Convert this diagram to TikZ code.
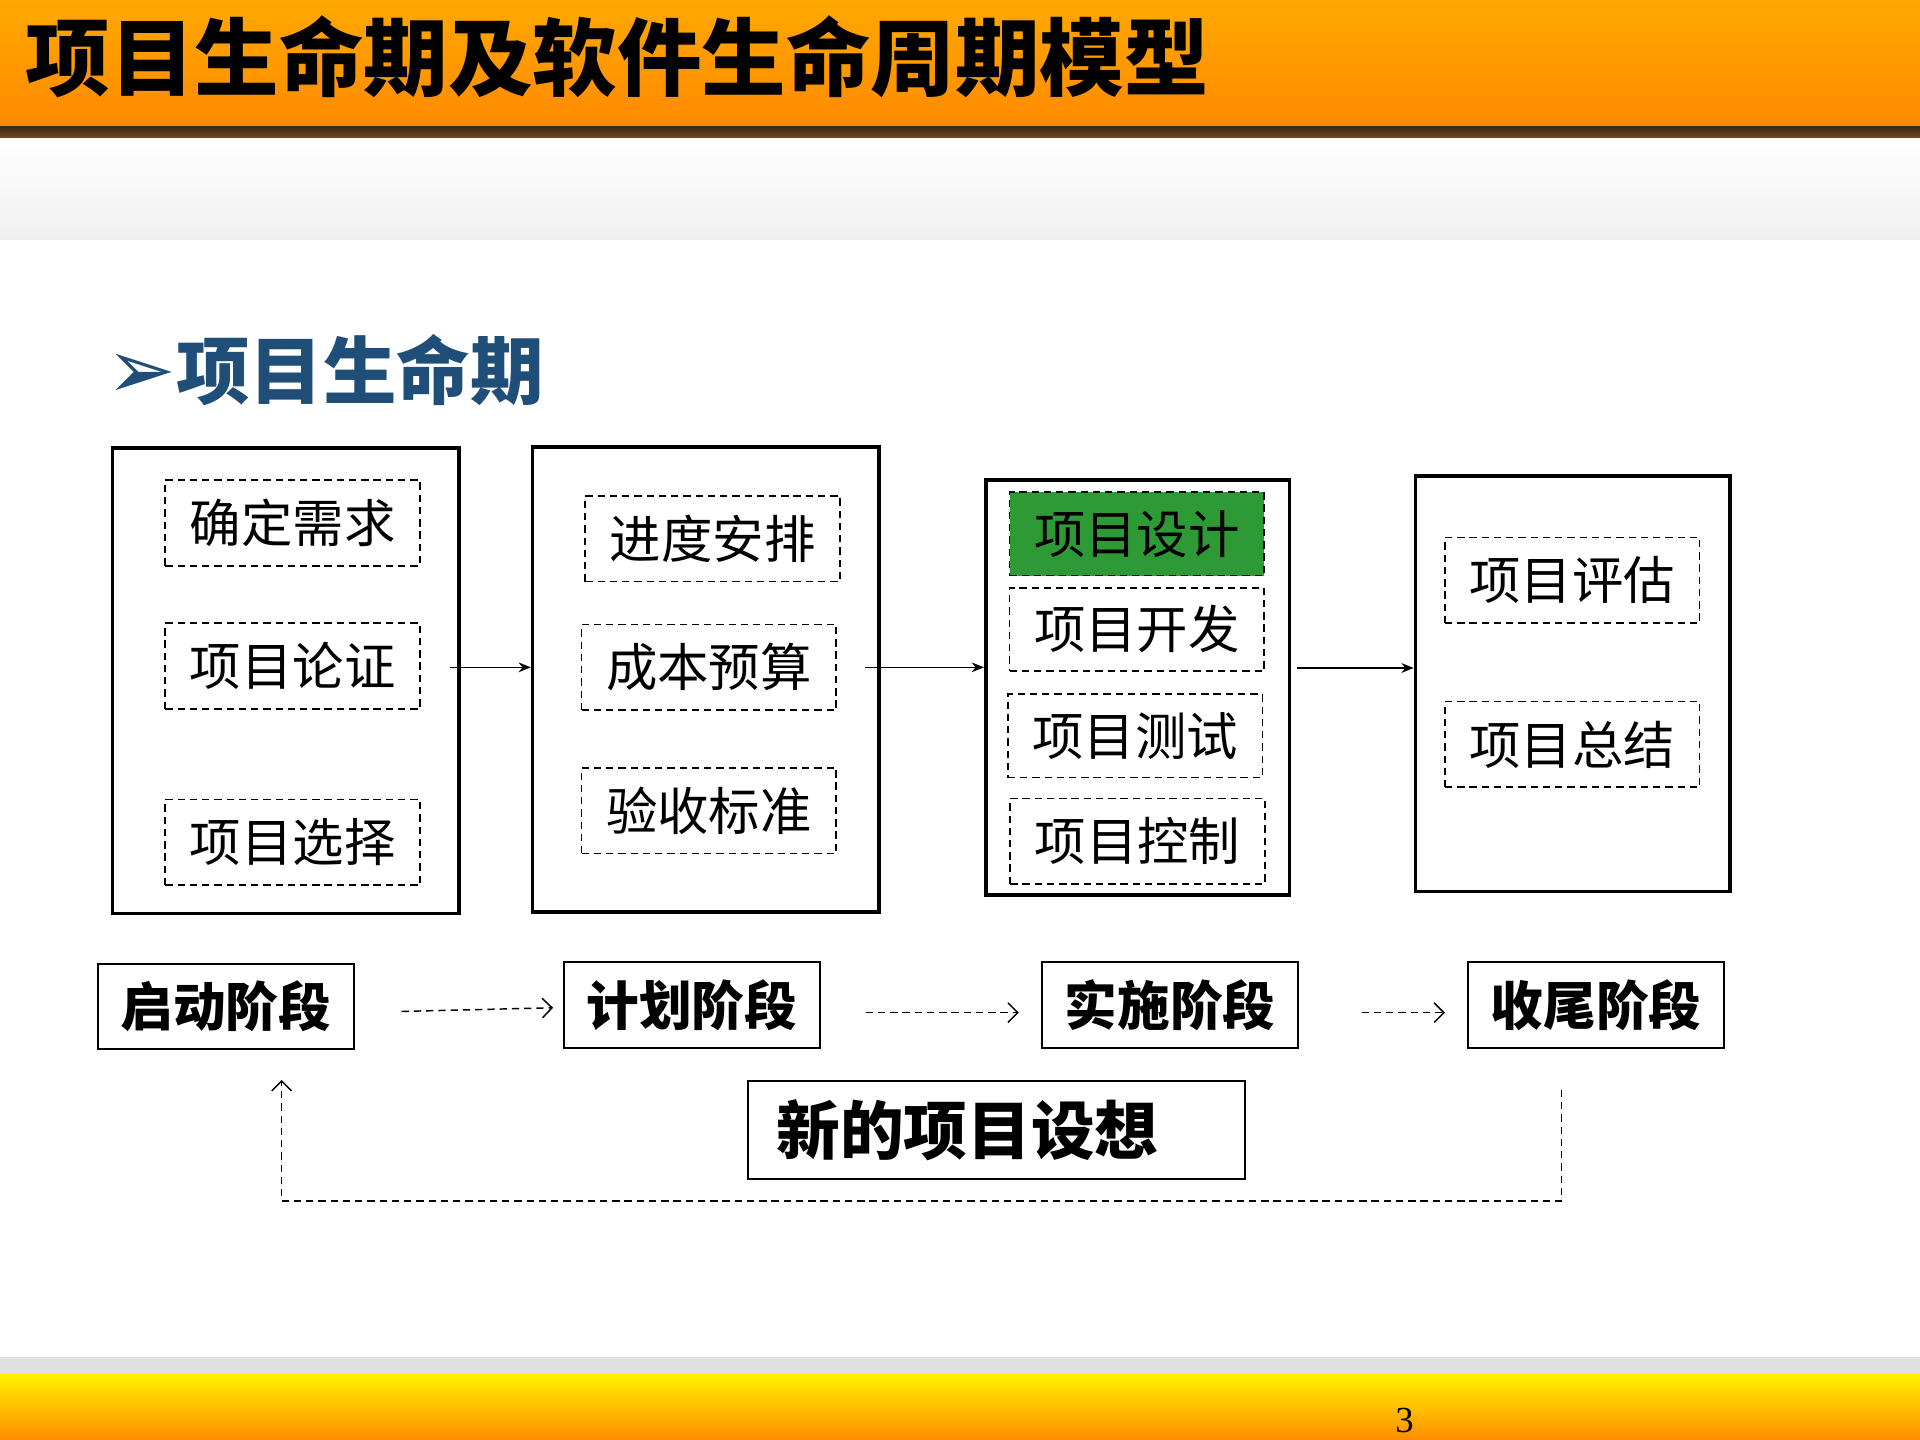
\documentclass[tikz,border=0pt]{standalone}
\usepackage{fontspec}
\setmainfont{Liberation Serif}
\newfontfamily\cjk{Noto Sans CJK SC}
\newfontfamily\djsym{DejaVu Sans}
\usetikzlibrary{arrows.meta}
\definecolor{ttl}{HTML}{1F4E79}
\definecolor{grn}{HTML}{2E9A35}
\definecolor{hdtop}{HTML}{FFA800}
\definecolor{hdbot}{HTML}{FF8A00}
\tikzset{x=0.5pt,y=-0.5pt,
 big/.style={draw,line width=1.5pt},
 item/.style={draw,dash pattern=on 3pt off 2pt,line width=0.7pt,font=\cjk\fontsize{21}{21}\selectfont,anchor=center},
 stage/.style={draw,line width=0.8pt,font=\cjk\bfseries\fontsize{21.5}{22}\selectfont},
 arr/.style={-{Stealth[length=5pt,width=4pt]},line width=0.6pt},
 darr/.style={-{Straight Barb[length=4pt]},dash pattern=on 3pt off 2pt,line width=0.6pt}}
\begin{document}
\begin{tikzpicture}
\useasboundingbox (0,0) rectangle (1568,1176);
\shade[top color=hdtop,bottom color=hdbot] (0,0) rectangle (1568,104);
\shade[top color=black!70!brown,bottom color=brown!60!black] (0,103) rectangle (1568,113);
\shade[top color=white,bottom color=black!6] (0,113) rectangle (1568,196);
\node[anchor=west,font=\cjk\bfseries\fontsize{34.5}{35}\selectfont] (title) at (14,46) {项目生命期及软件生命周期模型};
\node[anchor=west,text=ttl,font=\cjk\bfseries\fontsize{30}{30}\selectfont] (sub) at (80,302) {{\djsym\fontsize{34}{34}\selectfont ➢}项目生命期};
% big boxes
\node[big,minimum width=141.5pt,minimum height=190pt] (b1) at (233.5,556) {};
\node[big,minimum width=141.5pt,minimum height=190pt] (b2) at (576.5,555) {};
\node[big,minimum width=124pt,minimum height=169.5pt] (b3) at (929,561.5) {};
\node[big,minimum width=128.5pt,minimum height=169.5pt] (b4) at (1284.5,558.5) {};
\tikzset{item/.append style={minimum width=104pt,minimum height=35pt}}
\node[item] (a1) at (239,427) {确定需求};
\node[item] (a2) at (239,544) {项目论证};
\node[item] (a3) at (239,688) {项目选择};
\node[item] (c1) at (582,440) {进度安排};
\node[item] (c2) at (579,545) {成本预算};
\node[item] (c3) at (579,662) {验收标准};
\node[item,fill=grn,minimum height=34pt] (d1) at (928.5,436) {项目设计};
\node[item,minimum height=34pt] (d2) at (928.5,514) {项目开发};
\node[item,minimum height=34pt] (d3) at (927,601) {项目测试};
\node[item] (d4) at (929,687) {项目控制};
\node[item] (e1) at (1284,474) {项目评估};
\node[item] (e2) at (1284,608) {项目总结};
\draw[arr] (b1.east)++(-9,-11) coordinate (s1) -- (b2.west|-s1);
\draw[arr] (b2.east)++(-13,-10) coordinate (s2) -- (b3.west|-s2);
\draw[arr] (b3.east)++(5,-16) coordinate (s3) -- (b4.west|-s3);
% stages
\tikzset{stage/.append style={minimum width=104.5pt,minimum height=35pt}}
\node[stage] (p1) at (184.5,822) {启动阶段};
\node[stage] (p2) at (565,821) {计划阶段};
\node[stage] (p3) at (955.5,821) {实施阶段};
\node[stage] (p4) at (1303.5,821) {收尾阶段};
\node[stage,minimum width=203pt,minimum height=40pt,font=\cjk\bfseries\fontsize{26}{26}\selectfont,text width=180pt] (n) at (814,923) {新的项目设想};
\coordinate (q1) at (328,826); \coordinate (q2) at (707,827); \coordinate (q3) at (1112,827);
\draw[darr] (q1) -- ([xshift=-4,yshift=-1]p2.west);
\draw[darr] (q2) -- (832,827) coordinate (r2);
\draw[darr] (q3) -- (1180,827) coordinate (r3);
\coordinate (l1) at (1275,890); \coordinate (l2) at (230,882);
\draw[darr] (l1) -- (1275,981) -- (230,981) -- (l2);
% footer
\fill[black!12] (0,1108) rectangle (1568,1122);
\shade[top color=yellow!90!orange,bottom color=orange!90!yellow] (0,1122) rectangle (1568,1176);
\node[font=\fontsize{15}{15}\selectfont] (pg) at (1147,1160) {3};
\end{tikzpicture}
\end{document}
